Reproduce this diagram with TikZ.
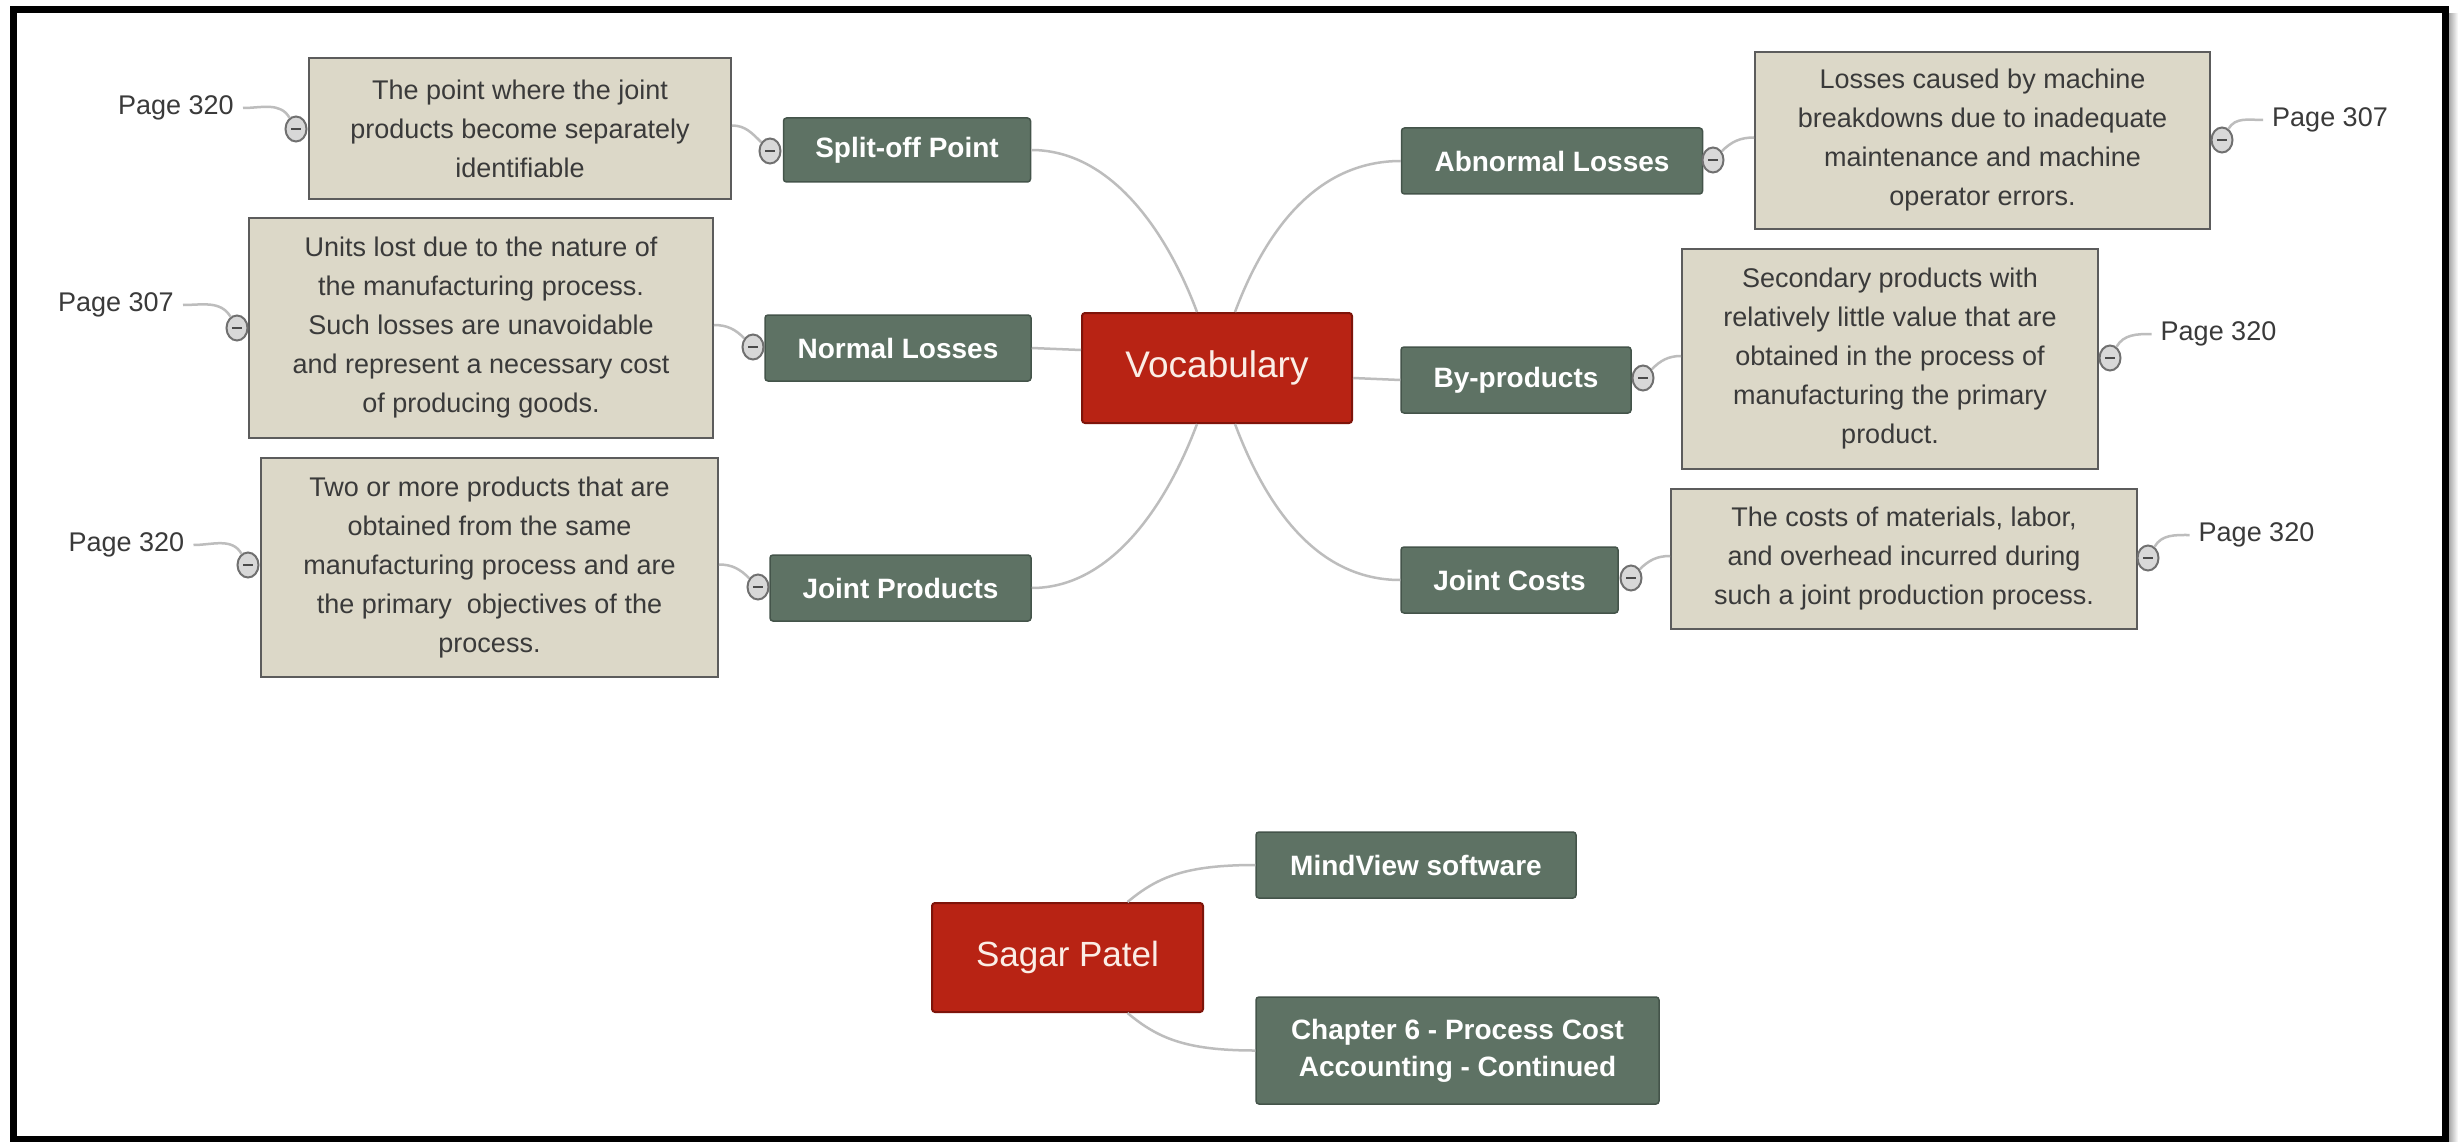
\documentclass[tikz,border=0pt]{standalone}
\usepackage{fontspec}
\setmainfont{Liberation Sans}
\usetikzlibrary{shapes.geometric}

\definecolor{nodegreen}{HTML}{5E7264}
\definecolor{greenedge}{HTML}{44544A}
\definecolor{nodered}{HTML}{B82314}
\definecolor{rededge}{HTML}{7E140A}
\definecolor{redtext}{HTML}{FBEDE6}
\definecolor{notefill}{HTML}{DCD8C8}
\definecolor{noteedge}{HTML}{5C5C5C}
\definecolor{notetext}{HTML}{3A3A3A}
\definecolor{linkgray}{HTML}{BDBDBD}
\definecolor{togfill}{HTML}{D8D8D8}
\definecolor{togedge}{HTML}{707070}
\definecolor{togminus}{HTML}{4A4A4A}

\tikzset{
  conn/.style={draw=linkgray, line width=2.5pt},
  topic/.style={draw=greenedge, fill=nodegreen, line width=1.5pt, rounded corners=3pt,
    text=white, font=\bfseries\fontsize{28}{37}\selectfont, align=center, inner sep=0pt},
  central/.style={draw=rededge, fill=nodered, line width=2pt, rounded corners=3pt,
    text=redtext, inner sep=0pt},
  note/.style={draw=noteedge, fill=notefill, line width=2pt, text=notetext,
    font=\fontsize{27}{39}\selectfont, align=center, inner sep=0pt},
  pageref/.style={text=notetext, font=\fontsize{27}{32}\selectfont, inner xsep=9pt, inner ysep=0pt},
  toggle/.style={ellipse, draw=togedge, fill=togfill, line width=2pt,
    minimum width=21pt, minimum height=25pt, inner sep=0pt,
    path picture={\draw[line width=2.5pt, togminus]
      ([xshift=-5pt]path picture bounding box.center) --
      ([xshift=5pt]path picture bounding box.center);}}
}

\begin{document}
\begin{tikzpicture}[x=1pt, y=-1pt]
\useasboundingbox (0,0) rectangle (2458,1142);
\fill[white] (0,0) rectangle (2458,1142);

% frame with a soft shadow on the right
\shade[left color=gray!75, right color=white] (2448,14) rectangle (2458,1142);
\draw[line width=7pt, black] (13,10) rectangle (2445,1139);

% central topics
\node[central, minimum width=270pt, minimum height=110pt, font=\fontsize{37}{40}\selectfont]
  (voc) at (1217,368) {Vocabulary};
\node[central, minimum width=271pt, minimum height=109pt, font=\fontsize{35}{40}\selectfont]
  (sag) at (1067.5,957.5) {Sagar Patel};

% subtopics
\node[topic, minimum width=247pt, minimum height=64pt] (sp) at (907,150) {Split-off Point};
\node[topic, minimum width=266pt, minimum height=66pt] (nl) at (898,348) {Normal Losses};
\node[topic, minimum width=261pt, minimum height=66pt] (jp) at (900.5,588) {Joint Products};
\node[topic, minimum width=301pt, minimum height=66pt] (al) at (1552,161) {Abnormal Losses};
\node[topic, minimum width=230pt, minimum height=66pt] (bp) at (1516,380) {By-products};
\node[topic, minimum width=217pt, minimum height=66pt] (jc) at (1509.5,580) {Joint Costs};
\node[topic, minimum width=320pt, minimum height=66pt] (mv) at (1416,865) {MindView software};
\node[topic, minimum width=403pt, minimum height=107pt] (ch) at (1457.5,1050.5)
  {Chapter 6 - Process Cost\\Accounting - Continued};

% definitions
\node[note, minimum width=422pt, minimum height=141pt] (d1) at (520,128.5)
  {The point where the joint\\products become separately\\identifiable};
\node[note, minimum width=464pt, minimum height=220pt] (d2) at (481,328)
  {Units lost due to the nature of\\the manufacturing process.\\Such losses are unavoidable\\and represent a necessary cost\\of producing goods.};
\node[note, minimum width=457pt, minimum height=219pt] (d3) at (489.5,567.5)
  {Two or more products that are\\obtained from the same\\manufacturing process and are\\the primary\ \ objectives of the\\process.};
\node[note, minimum width=455pt, minimum height=177pt] (d4) at (1982.5,140.5)
  {Losses caused by machine\\breakdowns due to inadequate\\maintenance and machine\\operator errors.};
\node[note, minimum width=416pt, minimum height=220pt] (d5) at (1890,359)
  {Secondary products with\\relatively little value that are\\obtained in the process of\\manufacturing the primary\\product.};
\node[note, minimum width=466pt, minimum height=140pt] (d6) at (1904,559)
  {The costs of materials, labor,\\and overhead incurred during\\such a joint production process.};

% page references
\node[pageref] (p1) at (176,108) {Page 320};
\node[pageref] (p2) at (116,305) {Page 307};
\node[pageref] (p3) at (126.5,545) {Page 320};
\node[pageref] (p4) at (2330,120) {Page 307};
\node[pageref] (p5) at (2218.5,334) {Page 320};
\node[pageref] (p6) at (2256.5,535) {Page 320};

% collapse toggles
\node[toggle] (t1) at (770,151) {};
\node[toggle] (t2) at (753,347) {};
\node[toggle] (t3) at (758,587) {};
\node[toggle] (t4) at (1713,160) {};
\node[toggle] (t5) at (1643,378) {};
\node[toggle] (t6) at (1631,578) {};
\node[toggle] (u1) at (296,129) {};
\node[toggle] (u2) at (237,328) {};
\node[toggle] (u3) at (248,565) {};
\node[toggle] (u4) at (2222,140) {};
\node[toggle] (u5) at (2110,358) {};
\node[toggle] (u6) at (2148,558) {};

% branches from Vocabulary
\draw[conn] (sp.east) .. controls +(80,0) and +(-30,-80) .. ([xshift=-20pt]voc.north);
\draw[conn] ([xshift=18pt]voc.north) .. controls +(30,-80) and +(-85,0) .. (al.west);
\draw[conn] (nl.east) -- ([yshift=18pt]voc.west);
\draw[conn] ([yshift=-10pt]voc.east) -- (bp.west);
\draw[conn] ([xshift=-20pt]voc.south) .. controls +(-30,80) and +(80,0) .. (jp.east);
\draw[conn] ([xshift=18pt]voc.south) .. controls +(30,80) and +(-85,0) .. (jc.west);

% branches from Sagar Patel
\draw[conn] ([xshift=60pt]sag.north) .. controls +(30,-25) and +(-70,0) .. (mv.west);
\draw[conn] ([xshift=60pt]sag.south) .. controls +(30,25) and +(-70,0) .. (ch.west);

% definitions to their toggles
\draw[conn] ([yshift=3pt]d1.east) to[out=0, in=135] (t1);
\draw[conn] ([yshift=3pt]d2.east) to[out=0, in=135] (t2);
\draw[conn] ([yshift=3pt]d3.east) to[out=0, in=135] (t3);
\draw[conn] (t4) to[out=45, in=180] ([yshift=3pt]d4.west);
\draw[conn] (t5) to[out=45, in=180] ([yshift=3pt]d5.west);
\draw[conn] (t6) to[out=45, in=180] ([yshift=3pt]d6.west);

% page references to their toggles
\draw[conn] (p1.east) to[out=0, in=120] (u1);
\draw[conn] (p2.east) to[out=0, in=120] (u2);
\draw[conn] (p3.east) to[out=0, in=120] (u3);
\draw[conn] (u4) to[out=60, in=180] (p4.west);
\draw[conn] (u5) to[out=60, in=180] (p5.west);
\draw[conn] (u6) to[out=60, in=180] (p6.west);
\end{tikzpicture}
\end{document}
